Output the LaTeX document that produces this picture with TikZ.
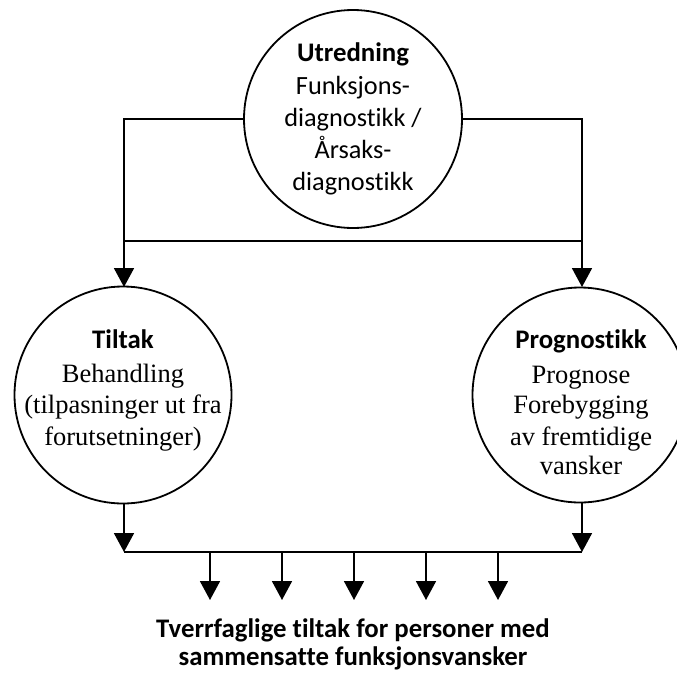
\documentclass[tikz,border=0pt]{standalone}
\usepackage{fontspec}
\setmainfont{Liberation Serif}
\newfontfamily\calfont[Ligatures=NoCommon]{Carlito}
\usetikzlibrary{arrows.meta}
\tikzset{
  circ/.style={draw, circle, line width=1.8pt, inner sep=0pt},
  conn/.style={line width=1.8pt},
  arr/.style={line width=1.8pt, -{Triangle[length=19pt,width=20pt]}},
  head/.style={anchor=base, inner sep=0pt, font=\calfont\bfseries\fontsize{26.8}{30}\selectfont},
  sans/.style={anchor=base, inner sep=0pt, font=\calfont\fontsize{26.3}{30}\selectfont},
  serif/.style={anchor=base, inner sep=0pt, font=\fontsize{26.5}{30}\selectfont},
  goalt/.style={anchor=base, inner sep=0pt, font=\calfont\bfseries\fontsize{26.8}{30}\selectfont},
}
\begin{document}
\begin{tikzpicture}[x=1pt,y=-1pt]
\useasboundingbox (0,0) rectangle (677,673);
\begin{scope}
\clip (0,0) rectangle (677,673);
\node[circ, minimum size=218pt] (top) at (353,119) {};
\node[circ, minimum size=217pt] (left) at (123,395) {};
\node[circ, minimum size=215pt] (right) at (580,395) {};
\end{scope}
% top circle text
\node[head]  (u1) at (353,61)  {Utredning};
\node[sans]  (u2) at (353,94)  {Funksjons-};
\node[sans]  (u3) at (353,126) {diagnostikk /};
\node[sans]  (u4) at (353,158) {Årsaks-};
\node[sans]  (u5) at (353,190) {diagnostikk};
% left circle text
\node[head]  (l1) at (123,348) {Tiltak};
\node[serif] (l2) at (123,382) {Behandling};
\node[serif] (l3) at (123,413) {(tilpasninger ut fra};
\node[serif] (l4) at (123,445) {forutsetninger)};
% right circle text
\node[head]  (r1) at (581,348) {Prognostikk};
\node[serif] (r2) at (581,383) {Prognose};
\node[serif] (r3) at (581,413) {Forebygging};
\node[serif] (r4) at (581,445) {av fremtidige};
\node[serif] (r5) at (581,474) {vansker};
% connectors
\coordinate (tl) at (124,119);
\coordinate (tr) at (582,119);
\coordinate (ml) at (124,241);
\coordinate (mr) at (582,241);
\coordinate (lt) at (124,287);
\coordinate (rt) at (582,287);
\coordinate (bl) at (124,552);
\coordinate (br) at (582,552);
\coordinate (ls) at (124,503);
\coordinate (rs) at (582,503);
\draw[conn] (top.west) -- (tl) -- (ml) -- (mr) -- (tr) -- (top.east);
\draw[arr] (ml) -- (lt);
\draw[arr] (mr) -- (rt);
\draw[arr] (ls) -- (bl);
\draw[arr] (rs) -- (br);
\draw[conn] (bl) -- (br);
\foreach \i/\x in {1/210,2/282,3/354,4/426,5/498}{
  \coordinate (s\i) at (\x,552);
  \coordinate (e\i) at (\x,600);
  \draw[arr] (s\i) -- (e\i);
}
\node[goalt] (g1) at (353,637) {Tverrfaglige tiltak for personer med};
\node[goalt] (g2) at (353,665) {sammensatte funksjonsvansker};
\end{tikzpicture}
\end{document}
